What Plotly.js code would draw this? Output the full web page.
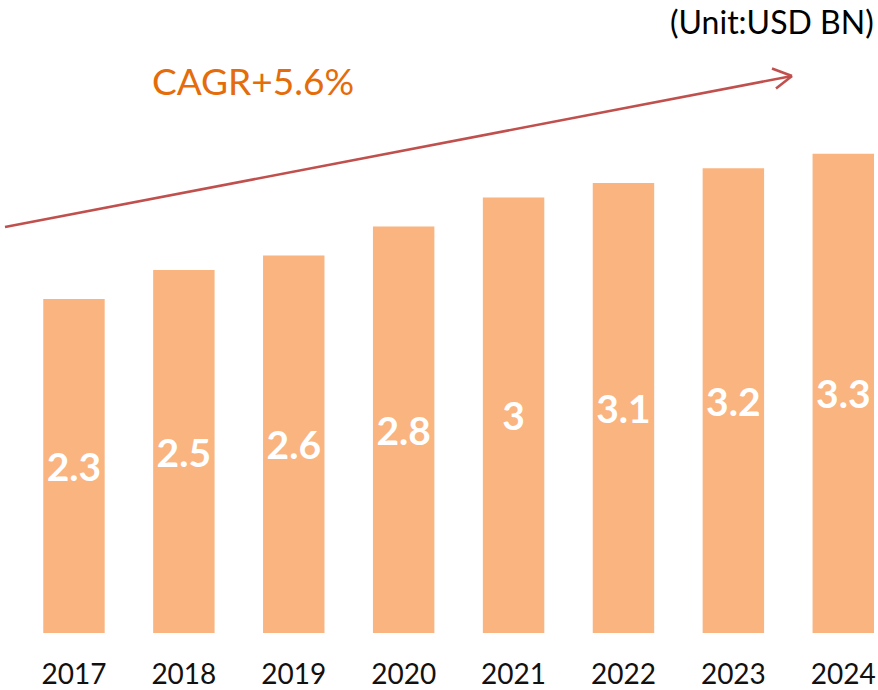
<!DOCTYPE html>
<html>
<head>
<meta charset="utf-8">
<script src="https://cdn.plot.ly/plotly-3.0.1.min.js"></script>
<style>
  html, body { margin: 0; padding: 0; background: #ffffff; }
  #chart { width: 878px; height: 690px; }
</style>
</head>
<body>
<div id="chart"></div>
<script>
// ---- data ----
const years = ["2017", "2018", "2019", "2020", "2021", "2022", "2023", "2024"];
const marketSize = [2.3, 2.5, 2.6, 2.8, 3, 3.1, 3.2, 3.3];
const cagrLabel = "CAGR+5.6%";
const unitLabel = "(Unit:USD BN)";

// ---- layout helpers (pixel -> paper) ----
const W = 878, H = 690;
const M = { l: 0, r: 0, t: 0, b: 57 };
const plotH = H - M.t - M.b;
const px = x => x / (W - M.l - M.r);
const py = y => (plotH - y) / plotH;

const arrowColor = "#C0504D";
function seg(x0, y0, x1, y1) {
  return {
    type: "line", xref: "paper", yref: "paper",
    x0: px(x0), y0: py(y0), x1: px(x1), y1: py(y1),
    line: { color: arrowColor, width: 2.6 }
  };
}

const trace = {
  type: "bar",
  x: years,
  y: marketSize,
  marker: { color: "#F9B47F" },
  text: marketSize.map(String),
  textposition: "inside",
  insidetextanchor: "middle",
  textangle: 0,
  constraintext: "none",
  textfont: { family: "Lato, 'Open Sans', sans-serif", size: 39, color: "#ffffff", weight: "bold" },
  hoverinfo: "skip",
  cliponaxis: false
};

const layout = {
  width: W, height: H,
  margin: M,
  paper_bgcolor: "#ffffff",
  plot_bgcolor: "#ffffff",
  showlegend: false,
  bargap: 0.441,
  uniformtext: { mode: false },
  xaxis: {
    type: "category",
    range: [-0.673, 7.316],
    showgrid: false, zeroline: false, showline: false,
    ticks: "",
    ticklabelstandoff: 22,
    tickfont: { family: "Lato, 'Open Sans', sans-serif", size: 28, color: "#111111" }
  },
  yaxis: {
    range: [0, plotH / 145.2],
    showgrid: false, zeroline: false, showline: false,
    showticklabels: false, ticks: ""
  },
  shapes: [
    seg(5, 227, 792, 76),
    seg(792, 76, 772, 68.5),
    seg(792, 76, 776, 88.5)
  ],
  annotations: [
    {
      xref: "paper", yref: "paper", x: px(252.5), y: py(80),
      xanchor: "center", yanchor: "middle", showarrow: false,
      text: cagrLabel,
      font: { family: "Lato, 'Open Sans', sans-serif", size: 37, color: "#E46C0A" }
    },
    {
      xref: "paper", yref: "paper", x: px(772), y: py(21),
      xanchor: "center", yanchor: "middle", showarrow: false,
      text: unitLabel,
      font: { family: "Lato, 'Open Sans', sans-serif", size: 32, color: "#000000" }
    }
  ]
};

Plotly.newPlot("chart", [trace], layout, { displayModeBar: false, staticPlot: true });
</script>
</body>
</html>
